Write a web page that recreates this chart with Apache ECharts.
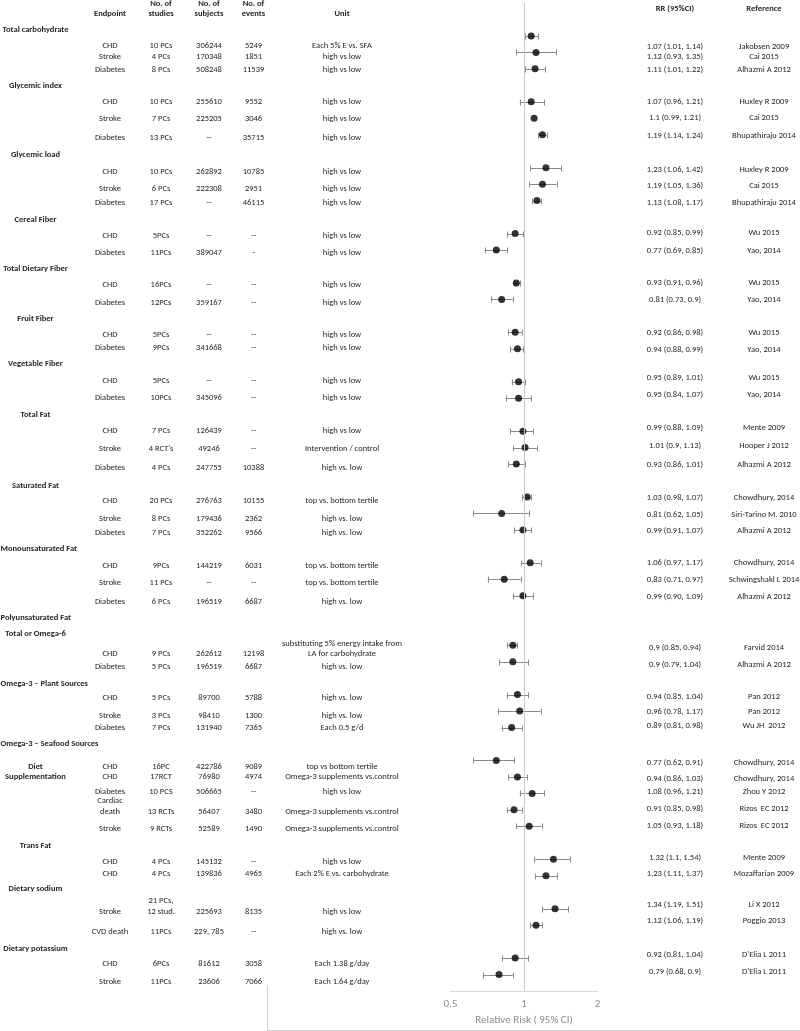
<!DOCTYPE html>
<html>
<head>
<meta charset="utf-8">
<script src="https://cdn.jsdelivr.net/npm/echarts@6/dist/echarts.min.js"></script>
<style>
html,body{margin:0;padding:0;background:#fff;}
#chart{width:800px;height:1031px;}
</style>
</head>
<body>
<div id="chart"></div>
<script>
// ---------------- DATA ----------------
const groupNames = ['Total carbohydrate','Glycemic index','Glycemic load','Cereal Fiber','Total Dietary Fiber','Fruit Fiber','Vegetable Fiber','Total Fat','Saturated Fat','Monounsaturated Fat','Polyunsaturated Fat','Total or Omega-6','Omega-3 – Plant Sources','Omega-3 – Seafood Sources','Diet','Supplementation','Trans Fat','Dietary sodium','Dietary potassium'];

const endpoints = ['CHD','Stroke','Diabetes','CHD','Stroke','Diabetes','CHD','Stroke','Diabetes','CHD','Diabetes','CHD','Diabetes','CHD','Diabetes','CHD','Diabetes','CHD','Stroke','Diabetes','CHD','Stroke','Diabetes','CHD','Stroke','Diabetes','CHD','Diabetes','CHD','Stroke','Diabetes','CHD','CHD','Diabetes','Cardiac\ndeath','Stroke','CHD','CHD','Stroke','CVD death','CHD','Stroke'];

const studies = ['10 PCs','4 PCs','8 PCs','10 PCs','7 PCs','13 PCs','10 PCs','6 PCs','17 PCs','5PCs','11PCs','16PCs','12PCs','5PCs','9PCs','5PCs','10PCs','7 PCs',"4 RCT's",'4 PCs','20 PCs','8 PCs','7 PCs','9PCs','11 PCs','6 PCs','9 PCs','5 PCs','5 PCs','3 PCs','7 PCs','16PC','17RCT','10 PCS','13 RCTs','9 RCTs','4 PCs','4 PCs','21 PCs,\n12 stud.','11PCs','6PCs','11PCs'];

const subjects = ['306244','170348','508248','255610','225205','--','262892','222308','--','--','389047','--','359167','--','341668','--','345096','126439','49246','247755','276763','179436','352262','144219','--','196519','262612','196519','89700','98410','131940','422786','76980','506665','56407','52589','145132','139836','225693','229, 785','81612','23606'];

const events = ['5249','1851','11539','9552','3046','35715','10785','2951','46115','--','-','--','--','--','--','--','--','--','--','10388','10155','2362','9566','6031','--','6687','12198','6687','5788','1300','7365','9089','4974','--','3480','1490','--','4965','8135','--','3058','7066'];

const units = ['Each 5% E vs. SFA','high vs low','high vs low','high vs low','high vs low','high vs low','high vs low','high vs low','high vs low','high vs low','high vs low','high vs low','high vs low','high vs low','high vs low','high vs low','high vs low','high vs low','Intervention / control','high vs. low','top vs. bottom tertile','high vs. low','high vs. low','top vs. bottom tertile','top vs. bottom tertile','high vs. low','substituting 5% energy intake from\nLA for carbohydrate','high vs. low','high vs. low','high vs. low','Each 0.5 g/d','top vs bottom tertile','Omega-3 supplements vs.control','high vs low','Omega-3 supplements vs.control','Omega-3 supplements vs.control','high vs low','Each 2% E vs. carbohydrate','high vs low','high vs. low','Each 1.38 g/day','Each 1.64 g/day'];

const rrLabels = ['1.07 (1.01, 1.14)','1.12 (0.93, 1.35)','1.11 (1.01, 1.22)','1.07 (0.96, 1.21)','1.1 (0.99, 1.21)','1.19 (1.14, 1.24)','1.23 (1.06, 1.42)','1.19 (1.05, 1.36)','1.13 (1.08, 1.17)','0.92 (0.85, 0.99)','0.77 (0.69, 0.85)','0.93 (0.91, 0.96)','0.81 (0.73, 0.9)','0.92 (0.86, 0.98)','0.94 (0.88, 0.99)','0.95 (0.89, 1.01)','0.95 (0.84, 1.07)','0.99 (0.88, 1.09)','1.01 (0.9, 1.13)','0.93 (0.86, 1.01)','1.03 (0.98, 1.07)','0.81 (0.62, 1.05)','0.99 (0.91, 1.07)','1.06 (0.97, 1.17)','0.83 (0.71, 0.97)','0.99 (0.90, 1.09)','0.9 (0.85, 0.94)','0.9 (0.79, 1.04)','0.94 (0.85, 1.04)','0.96 (0.78, 1.17)','0.89 (0.81, 0.98)','0.77 (0.62, 0.91)','0.94 (0.86, 1.03)','1.08 (0.96, 1.21)','0.91 (0.85, 0.98)','1.05 (0.93, 1.18)','1.32 (1.1, 1.54)','1.23 (1.11, 1.37)','1.34 (1.19, 1.51)','1.12 (1.06, 1.19)','0.92 (0.81, 1.04)','0.79 (0.68, 0.9)'];

const references = ['Jakobsen 2009','Cai 2015','Alhazmi A 2012','Huxley R 2009','Cai 2015','Bhupathiraju 2014','Huxley R 2009','Cai 2015','Bhupathiraju 2014','Wu 2015','Yao, 2014','Wu 2015','Yao, 2014','Wu 2015','Yao, 2014','Wu 2015','Yao, 2014','Mente 2009','Hooper J 2012','Alhazmi A 2012','Chowdhury, 2014','Siri-Tarino M. 2010','Alhazmi A 2012','Chowdhury, 2014','Schwingshakl L 2014','Alhazmi A 2012','Farvid 2014','Alhazmi A 2012','Pan 2012','Pan 2012','Wu JH  2012','Chowdhury, 2014','Chowdhury, 2014','Zhou Y 2012','Rizos  EC 2012','Rizos  EC 2012','Mente 2009','Mozaffarian 2009','Li X 2012','Poggio 2013',"D'Elia L 2011","D'Elia L 2011"];

const rr     = [1.07,1.12,1.11,1.07,1.1,1.19,1.23,1.19,1.13,0.92,0.77,0.93,0.81,0.92,0.94,0.95,0.95,0.99,1.01,0.93,1.03,0.81,0.99,1.06,0.83,0.99,0.9,0.9,0.94,0.96,0.89,0.77,0.94,1.08,0.91,1.05,1.32,1.23,1.34,1.12,0.92,0.79];
const ciLow  = [1.01,0.93,1.01,0.96,0.99,1.14,1.06,1.05,1.08,0.85,0.69,0.91,0.73,0.86,0.88,0.89,0.84,0.88,0.9,0.86,0.98,0.62,0.91,0.97,0.71,0.90,0.85,0.79,0.85,0.78,0.81,0.62,0.86,0.96,0.85,0.93,1.1,1.11,1.19,1.06,0.81,0.68];
const ciHigh = [1.14,1.35,1.22,1.21,1.21,1.24,1.42,1.36,1.17,0.99,0.85,0.96,0.9,0.98,0.99,1.01,1.07,1.09,1.13,1.01,1.07,1.05,1.07,1.17,0.97,1.09,0.94,1.04,1.04,1.17,0.98,0.91,1.03,1.21,0.98,1.18,1.54,1.37,1.51,1.19,1.04,0.9];
// the original figure draws no whiskers for row 5 (Glycemic index / Stroke)
const ciShown = rr.map((v, i) => i !== 4);

const xTicks = [0.5, 1, 2];

// ---------------- LAYOUT ----------------
const rowSlot  = [0,1,2,4,5,6,8,9,10,12,13,15,16,18,19,21,22,24,25,26,28,29,30,32,33,34,37,38,40,41,42,44,45,46,47,48,50,51,53,54,56,57];
const rowTextY = [46,56.7,70,101.7,119,138,171.7,189,203.3,236,253.3,285,302.7,335.3,348.3,380.7,398.3,431,449.3,468.3,501,519,533.3,565.7,583,601.7,654.3,667.3,698.3,715.7,728.3,767,777,792,811.7,829,861.7,874,911.7,932,964.3,982];
const rrTextY  = [47,57,70,102,118,136,170,186,203,233,251,283,300,333,350,378,395,428,446,465,498,515,531,563,580,597,648,665,697,712,726,763,779,792,809,826,858,874,905,921,955,972];
const groupY   = [30,85.7,155,220,269,319.3,364.3,415,486,549.3,618.3,633.7,683.7,744.3,767,777,845.7,889.3,949];
const colX = {group:35.5, endpoint:110, studies:161, subjects:209, events:253.5, unit:342, rr:675, ref:764};

const FONT = 'Carlito, Lato, "Open Sans", sans-serif';
const FS = 8.5;
const TXT = '#262626';
const LH = 10.5;

const chart = echarts.init(document.getElementById('chart'), null, {renderer:'canvas'});

const measureCtx = document.createElement('canvas').getContext('2d');
function textW(t, bold){
  measureCtx.font = (bold ? 'bold ' : '') + FS + 'px ' + FONT;
  return measureCtx.measureText(t).width;
}

const graphics = [];
// y = centre of the LAST line of the text
function addText(text, x, y, opts){
  opts = opts || {};
  const multi = text.indexOf('\n') >= 0;
  graphics.push({
    type:'text', x:x, y: multi ? y + LH/2 : y, silent:true,
    style:{
      text:text, fill:TXT, fontSize:FS, fontFamily:FONT,
      fontWeight: opts.bold ? 'bold' : 'normal',
      align: opts.align || 'center',
      verticalAlign: multi ? 'bottom' : 'middle',
      lineHeight: LH
    }
  });
}

// headers
addText('Endpoint', colX.endpoint, 14, {bold:true});
addText('No. of\nstudies', colX.studies, 14, {bold:true});
addText('No. of\nsubjects', colX.subjects, 14, {bold:true});
addText('No. of\nevents', colX.events, 14, {bold:true});
addText('Unit', colX.unit, 14, {bold:true});
addText('RR (95%CI)', colX.rr, 8.5, {bold:true});
addText('Reference', colX.ref, 8.5, {bold:true});

// group labels
groupNames.forEach((g, i) => {
  const w = textW(g, true);
  const left = Math.max(0.5, colX.group - w/2);
  addText(g, left, groupY[i], {bold:true, align:'left'});
});

// rows
endpoints.forEach((e, i) => {
  const y = rowTextY[i];
  addText(e, colX.endpoint, y);
  addText(studies[i], colX.studies, y);
  addText(subjects[i], colX.subjects, y);
  addText(events[i], colX.events, y);
  addText(units[i], colX.unit, y);
  addText(rrLabels[i], colX.rr, rrTextY[i]);
  addText(references[i], colX.ref, rrTextY[i]);
});

// frame lines at the bottom
graphics.push({type:'line', silent:true, shape:{x1:267.5, y1:985, x2:267.5, y2:1031}, style:{stroke:'#d0d0d0', lineWidth:1}});
graphics.push({type:'line', silent:true, shape:{x1:267.5, y1:1030.5, x2:800, y2:1030.5}, style:{stroke:'#d0d0d0', lineWidth:1}});

const errData = [];
const ptData = [];
rr.forEach((v, i) => {
  if (ciShown[i]) errData.push([ciLow[i], ciHigh[i], rowSlot[i]]);
  ptData.push([v, rowSlot[i]]);
});

const option = {
  animation:false,
  backgroundColor:'#fff',
  grid:{left:450.5, width:147, top:3, height:990},
  xAxis:{
    type:'log', logBase:2, min:xTicks[0], max:xTicks[xTicks.length-1],
    axisLine:{show:true, onZero:false, lineStyle:{color:'#d9d9d9', width:1}},
    axisTick:{show:false},
    splitLine:{show:false},
    axisLabel:{color:'#8c8c8c', fontSize:11, margin:8, fontFamily:FONT,
      formatter: v => String(+v.toFixed(2))},
    name:'Relative Risk ( 95% CI)', nameLocation:'middle', nameGap:24,
    nameTextStyle:{color:'#8c8c8c', fontSize:11, fontFamily:FONT}
  },
  yAxis:{type:'value', inverse:true, min:-2, max:58, show:false},
  series:[
    {
      type:'custom', silent:true, z:2,
      encode:{x:[0,1], y:2},
      data:errData,
      renderItem:function(params, api){
        const p1 = api.coord([api.value(0), api.value(2)]);
        const p2 = api.coord([api.value(1), api.value(2)]);
        const h = 3;
        const st = {stroke:'#8a8a8a', lineWidth:1};
        const y = Math.round(p1[1]) + 0.5;
        return {type:'group', children:[
          {type:'line', shape:{x1:p1[0], y1:y, x2:p2[0], y2:y}, style:st},
          {type:'line', shape:{x1:Math.round(p1[0])+0.5, y1:y-h, x2:Math.round(p1[0])+0.5, y2:y+h}, style:st},
          {type:'line', shape:{x1:Math.round(p2[0])+0.5, y1:y-h, x2:Math.round(p2[0])+0.5, y2:y+h}, style:st}
        ]};
      }
    },
    {
      type:'scatter', z:3, silent:true,
      data:ptData, symbol:'circle', symbolSize:7,
      itemStyle:{color:'#000'},
      markLine:{
        silent:true, symbol:['none','none'],
        label:{show:false},
        lineStyle:{color:'#c8c8c8', width:1, type:'solid'},
        data:[{xAxis:1}]
      }
    }
  ],
  graphic:{elements:graphics}
};
chart.setOption(option);
</script>
</body>
</html>
